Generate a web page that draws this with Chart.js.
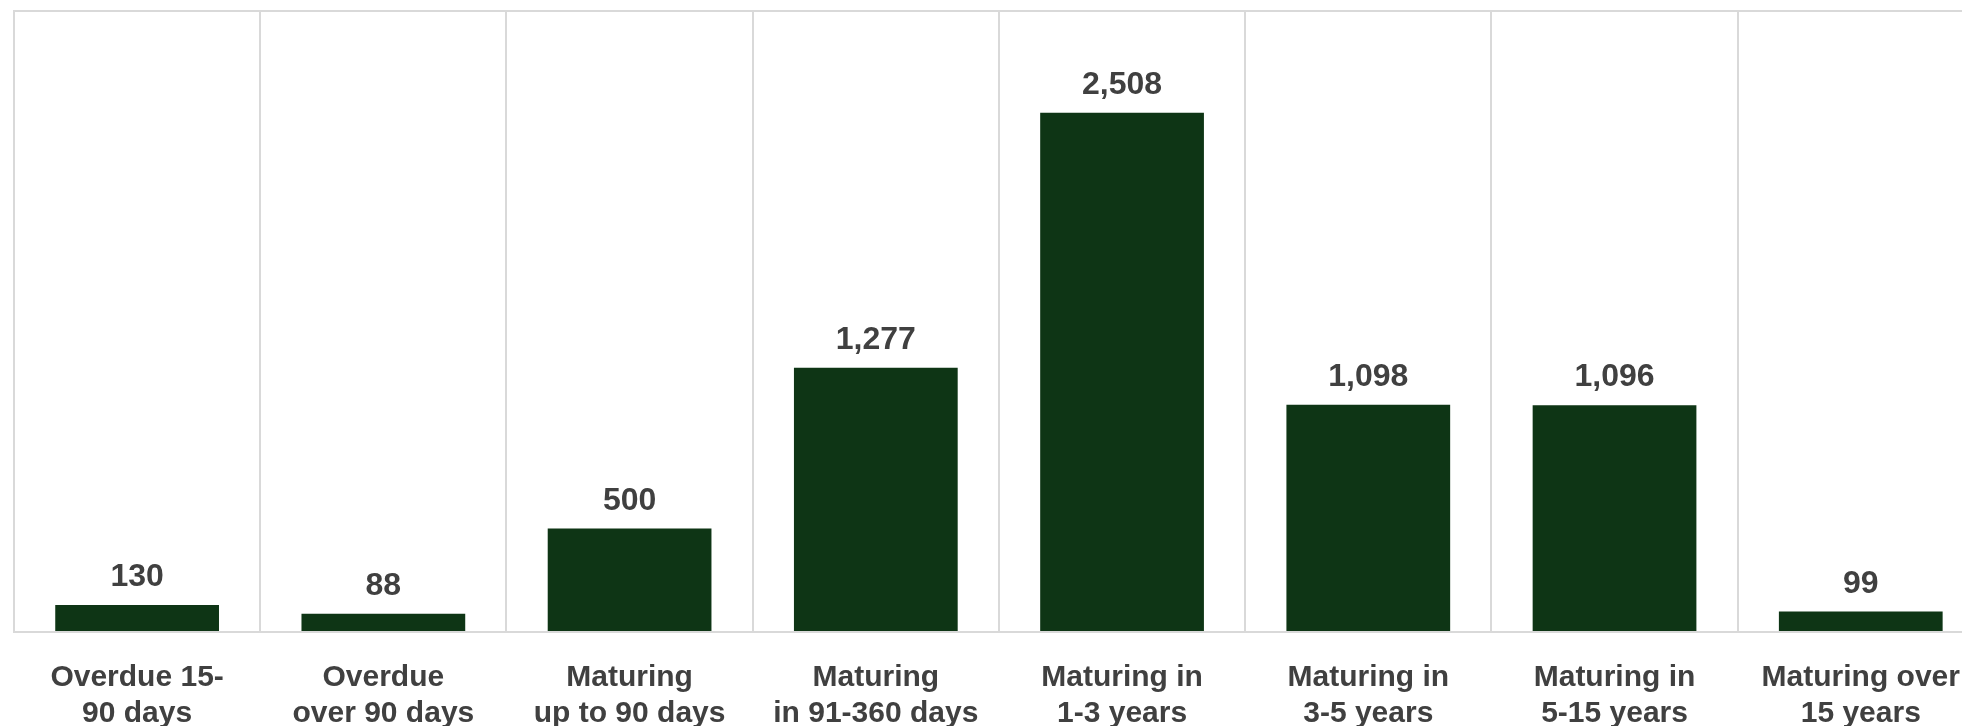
<!DOCTYPE html>
<html>
<head>
<meta charset="utf-8">
<script src="https://cdn.jsdelivr.net/npm/chart.js@4/dist/chart.umd.min.js"></script>
<style>
  html, body { margin: 0; padding: 0; background: #ffffff; overflow: hidden; }
  #wrap { width: 1962px; height: 726px; overflow: hidden; }
  canvas { display: block; }
</style>
</head>
<body>
<div id="wrap"><canvas id="c" width="1988" height="726"></canvas></div>
<script>
const categories = [
  ["Overdue 15-", "90 days"],
  ["Overdue", "over 90 days"],
  ["Maturing", "up to 90 days"],
  ["Maturing", "in 91-360 days"],
  ["Maturing in", "1-3 years"],
  ["Maturing in", "3-5 years"],
  ["Maturing in", "5-15 years"],
  ["Maturing over", "15 years"]
];
const values = [130, 88, 500, 1277, 2508, 1098, 1096, 99];
const yMax = 3000;

const FONT = "'Liberation Sans', Arial, sans-serif";
const TEXT = '#404040';
const GRID = '#d9d9d9';

const valueLabels = {
  id: 'valueLabels',
  afterDatasetsDraw(chart) {
    const ctx = chart.ctx;
    const meta = chart.getDatasetMeta(0);
    ctx.save();
    ctx.font = 'bold 32px ' + FONT;
    ctx.fillStyle = TEXT;
    ctx.textAlign = 'center';
    ctx.textBaseline = 'alphabetic';
    meta.data.forEach((bar, i) => {
      const v = chart.data.datasets[0].data[i];
      ctx.fillText(v.toLocaleString('en-US'), bar.x, bar.y - 19);
    });
    ctx.restore();
  }
};

new Chart(document.getElementById('c'), {
  type: 'bar',
  data: {
    labels: categories,
    datasets: [{
      data: values,
      backgroundColor: '#0e3515',
      borderWidth: 0,
      categoryPercentage: 1,
      barPercentage: 0.665
    }]
  },
  options: {
    responsive: false,
    animation: false,
    devicePixelRatio: 1,
    layout: { padding: { left: 14, top: 11, right: 1, bottom: 0 } },
    plugins: { legend: { display: false }, tooltip: { enabled: false } },
    scales: {
      x: {
        grid: { color: GRID, lineWidth: 2, drawTicks: false, offset: true },
        border: { color: GRID, width: 2 },
        ticks: {
          color: TEXT,
          font: { family: FONT, size: 30, weight: 'bold', lineHeight: 1.2 },
          padding: 28,
          maxRotation: 0,
          autoSkip: false
        },
        afterFit(scale) { scale.height = 94; }
      },
      y: {
        min: 0,
        max: yMax,
        ticks: { display: false, stepSize: yMax },
        grid: { color: GRID, lineWidth: 2, drawTicks: false },
        border: { color: GRID, width: 2 }
      }
    }
  },
  plugins: [valueLabels]
});
</script>
</body>
</html>
